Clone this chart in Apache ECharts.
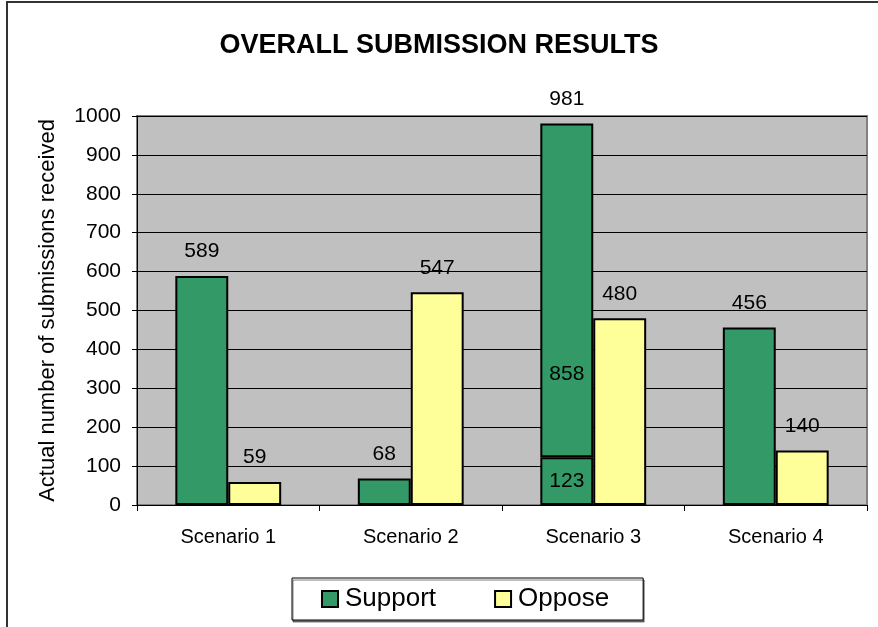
<!DOCTYPE html>
<html>
<head>
<meta charset="utf-8">
<script src="https://cdn.jsdelivr.net/npm/echarts@6/dist/echarts.min.js"></script>
<style>
  html, body { margin: 0; padding: 0; background: #fff; }
  #chart { width: 878px; height: 627px; }
</style>
</head>
<body>
<div id="chart"></div>
<script>
// chart data
var scenarios = ['Scenario 1', 'Scenario 2', 'Scenario 3', 'Scenario 4'];
var supportBase = [589, 68, 123, 456];        // lower (or only) part of the support bar
var supportUpper = ['-', '-', 858, '-'];       // second stacked part (scenario 3 only)
var supportTotals = ['-', '-', 981, '-'];      // total printed above the stacked bar
var oppose = [59, 547, 480, 140];
var yTicks = [0, 1000, 100];                   // min, max, step

var GREEN = '#339966';
var YELLOW = '#FFFF99';
var font = 'Liberation Sans, Arial, sans-serif';

var myChart = echarts.init(document.getElementById('chart'));

var barBorder = { borderColor: '#000', borderWidth: 2 };

var option = {
  animation: false,
  textStyle: { fontFamily: font },
  graphic: [{
    type: 'rect',
    shape: { x: 7, y: 2, width: 900, height: 700 },
    style: { fill: 'none', stroke: '#333', lineWidth: 2 },
    silent: true
  }],
  title: {
    text: 'OVERALL SUBMISSION RESULTS',
    left: 'center',
    top: 27,
    textStyle: { fontFamily: font, fontSize: 27, fontWeight: 'bold', color: '#000' }
  },
  legend: {
    data: ['Support', 'Oppose'],
    icon: 'rect',
    left: 292,
    top: 578,
    padding: [8, 34, 8, 29],
    itemGap: 58,
    itemWidth: 16,
    itemHeight: 16,
    borderColor: '#000',
    borderWidth: 1,
    backgroundColor: '#fff',
    shadowColor: 'rgba(0,0,0,0.5)',
    shadowOffsetY: 2,
    shadowOffsetX: 1,
    textStyle: { fontFamily: font, fontSize: 26, color: '#000', padding: [0, 0, 0, 2] },
    itemStyle: { borderColor: '#000', borderWidth: 2 }
  },
  grid: {
    left: 137,
    right: 11,
    top: 116,
    bottom: 122,
    show: true,
    backgroundColor: '#C0C0C0',
    borderColor: '#808080',
    borderWidth: 2
  },
  xAxis: {
    type: 'category',
    data: scenarios,
    axisLine: { lineStyle: { color: '#000', width: 1 } },
    axisTick: { show: true, length: 6, lineStyle: { color: '#000' } },
    axisLabel: { fontFamily: font, fontSize: 20, color: '#000', margin: 22 }
  },
  yAxis: {
    type: 'value',
    min: yTicks[0],
    max: yTicks[1],
    interval: yTicks[2],
    name: 'Actual number of submissions received',
    nameLocation: 'middle',
    nameGap: 78,
    nameTextStyle: { fontFamily: font, fontSize: 22, color: '#000' },
    axisLine: { show: true, lineStyle: { color: '#000', width: 1 } },
    axisTick: { show: true, length: 5, lineStyle: { color: '#000' } },
    axisLabel: {
      fontFamily: font, fontSize: 21, color: '#000', margin: 16,
      formatter: function (v) { return String(v); }
    },
    splitLine: { show: true, lineStyle: { color: '#000', width: 1 } }
  },
  series: [
    {
      name: 'Support',
      type: 'bar',
      stack: 'sup',
      barGap: '0%',
      barCategoryGap: '42%',
      data: supportBase.map(function (v, i) {
        // scenario 3 has its label inside the lower segment
        if (supportUpper[i] !== '-') {
          return { value: v, label: { position: 'inside' } };
        }
        return v;
      }),
      itemStyle: { color: GREEN, borderColor: barBorder.borderColor, borderWidth: barBorder.borderWidth },
      label: { show: true, position: 'top', distance: 14, fontFamily: font, fontSize: 21, color: '#000' }
    },
    {
      name: 'Support',
      type: 'bar',
      stack: 'sup',
      data: supportUpper,
      itemStyle: { color: GREEN, borderColor: barBorder.borderColor, borderWidth: barBorder.borderWidth },
      label: { show: true, position: 'insideBottom', distance: 72, fontFamily: font, fontSize: 21, color: '#000' }
    },
    {
      // zero height piece on top of the stack just to carry the total label
      name: 'Support',
      type: 'bar',
      stack: 'sup',
      data: supportTotals.map(function (v) { return v === '-' ? '-' : 0; }),
      itemStyle: { color: GREEN, borderWidth: 0 },
      label: {
        show: true, position: 'top', distance: 14, fontFamily: font, fontSize: 21, color: '#000',
        formatter: function (p) { return supportTotals[p.dataIndex]; }
      }
    },
    {
      name: 'Oppose',
      type: 'bar',
      data: oppose,
      itemStyle: { color: YELLOW, borderColor: barBorder.borderColor, borderWidth: barBorder.borderWidth },
      label: { show: true, position: 'top', distance: 14, fontFamily: font, fontSize: 21, color: '#000' }
    }
  ]
};

myChart.setOption(option);
window.addEventListener('resize', function () { myChart.resize(); });
</script>
</body>
</html>
